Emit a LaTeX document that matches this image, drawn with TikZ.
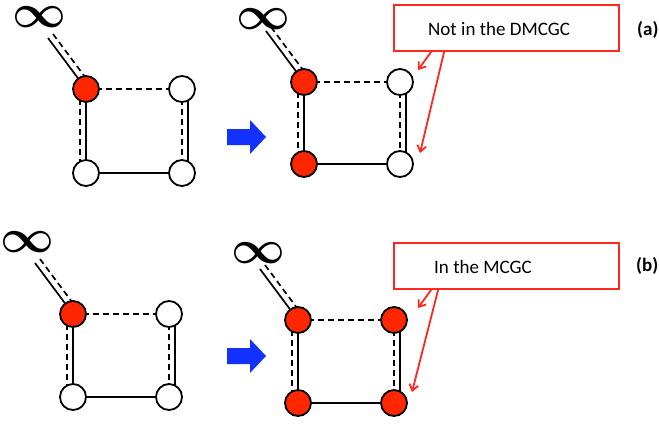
\documentclass[tikz,border=0pt]{standalone}
\usepackage{fontspec}
\setmainfont{Carlito}
\usetikzlibrary{arrows.meta,backgrounds}
\definecolor{nred}{RGB}{255,38,0}
\definecolor{bred}{RGB}{255,40,30}
\definecolor{nblue}{RGB}{20,50,255}
\newsavebox\infbox
\tikzset{
  vtx/.style={circle,draw=black,line width=1.8bp,minimum size=26bp,inner sep=0pt},
  infsym/.style={inner sep=0pt,scale=4.7},
  edge/.style={draw=black,line width=1.7bp},
  dashes/.style={dash pattern=on 6bp off 4bp},
  callout/.style={draw=bred,line width=1.8bp,minimum width=225bp,minimum height=46bp,inner sep=0pt},
  lbl/.style={inner sep=0pt,font=\fontsize{19bp}{22bp}\selectfont},
  rarrow/.style={draw=bred,line width=1.8bp,-{Straight Barb[length=6bp,width=9bp]}},
  barrow/.style={fill=nblue}
}
\newcommand\drawpanel[9]{%
  \node[vtx,fill=nred] (#1A) at (#2,#3) {};
  \node[vtx,fill=#5] (#1B) at (#2+96,#3) {};
  \node[vtx,fill=#6] (#1C) at (#2,#3+#4) {};
  \node[vtx,fill=#7] (#1D) at (#2+96,#3+#4) {};
  \node[infsym] (#1I) at (#2-#8,#3-#9) {\usebox\infbox};
  \coordinate (#1S) at (#2-38,#3-51);
  \begin{scope}[on background layer]
    \draw[edge] (#1S) -- (#1A.center);
    \draw[edge,dashes] ([shift={(5,-4)}]#1S) -- ([shift={(5,-4)}]#1A.center);
    \draw[edge,dashes] (#1A.center) -- (#1B.center);
    \draw[edge] (#1A.center) -- (#1C.center);
    \draw[edge,dashes] ([xshift=-6bp]#1A.center) -- ([xshift=-6bp]#1C.center);
    \draw[edge,dashes] (#1B.center) -- (#1D.center);
    \draw[edge] ([xshift=6bp]#1B.center) -- ([xshift=6bp]#1D.center);
    \draw[edge] (#1C.center) -- (#1D.center);
  \end{scope}}
\begin{document}
\sbox\infbox{\boldmath$\infty$}%
\begin{tikzpicture}[x=1bp,y=-1bp]
\useasboundingbox (0,0) rectangle (659,423);
% panel (a)
\drawpanel{al}{86}{89}{84}{white}{white}{white}{47}{72}
\drawpanel{ar}{304}{82}{82}{white}{nred}{white}{41}{63}
\fill[barrow] (227,129) -- (250,129) -- (250,120) -- (266,137) -- (250,154) -- (250,145) -- (227,145) -- cycle;
\node[callout] (boxa) at (506.5,28) {};
\node[lbl,anchor=base west] (texta) at (428,35) {Not in the DMCGC};
\node[lbl,anchor=base west,font=\fontsize{19bp}{22bp}\selectfont\bfseries] (taga) at (637,35) {(a)};
\coordinate (ta1) at (418,70);
\coordinate (ta2) at (420,153);
\draw[rarrow] ([xshift=38bp]boxa.south west) -- (ta1);
\draw[rarrow] ([xshift=51bp]boxa.south west) -- (ta2);
% panel (b)
\drawpanel{bl}{73}{314}{83}{white}{white}{white}{46}{72}
\drawpanel{br}{298}{320}{83}{nred}{nred}{nred}{40}{67}
\fill[barrow] (227,348) -- (250,348) -- (250,339) -- (266,356) -- (250,373) -- (250,364) -- (227,364) -- cycle;
\node[callout] (boxb) at (506.5,266) {};
\node[lbl,anchor=base west] (textb) at (434,273) {In the MCGC};
\node[lbl,anchor=base west,font=\fontsize{19bp}{22bp}\selectfont\bfseries] (tagb) at (636,271) {(b)};
\coordinate (tb1) at (418,308);
\coordinate (tb2) at (412,392);
\draw[rarrow] ([xshift=38bp]boxb.south west) -- (tb1);
\draw[rarrow] ([xshift=45bp]boxb.south west) -- (tb2);
\end{tikzpicture}
\end{document}
